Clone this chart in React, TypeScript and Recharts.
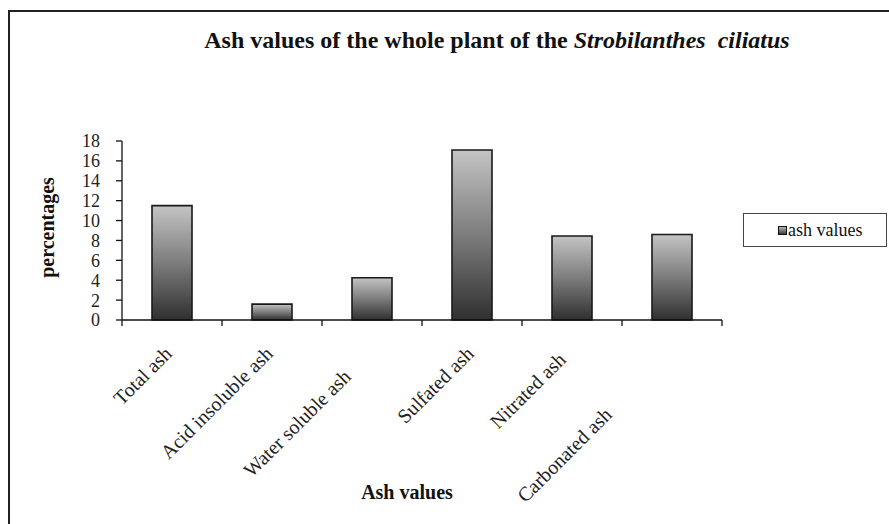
import React from 'react';
import { BarChart, Bar, XAxis, YAxis, Legend, Label } from 'recharts';

const categories = [
  'Total ash',
  'Acid insoluble ash',
  'Water soluble ash',
  'Sulfated ash',
  'Nitrated ash',
  'Carbonated ash',
];
const ashValues = [11.5, 1.6, 4.25, 17.1, 8.45, 8.6];
const yTicks = [0, 2, 4, 6, 8, 10, 12, 14, 16, 18];
const seriesName = 'ash values';
const titlePlain = 'Ash values of the whole plant of the ';
const titleItalic = 'Strobilanthes  ciliatus';
const xAxisTitle = 'Ash values';
const yAxisTitle = 'percentages';

// label placement offsets (Excel-style staggered category labels)
const labelShift = [
  { dx: 1, dy: 35 },
  { dx: 2, dy: 35 },
  { dx: -20, dy: 58 },
  { dx: 3, dy: 35 },
  { dx: -5, dy: 41 },
  { dx: -59, dy: 96 },
];

const data = categories.map((name, i) => ({ name, value: ashValues[i] }));

const FONT = 'Liberation Serif, DejaVu Serif, serif';

const XTick = (props: any) => {
  const { x, y, payload, index } = props;
  const half = payload && payload.offset ? payload.offset : 50;
  const s = labelShift[index] || { dx: 0, dy: 30 };
  const tx = x + s.dx;
  const ty = y + s.dy;
  return (
    <g>
      <line x1={x - half} y1={y} x2={x - half} y2={y + 6} stroke="#111" strokeWidth={1.3} />
      {index === categories.length - 1 && (
        <line x1={x + half} y1={y} x2={x + half} y2={y + 6} stroke="#111" strokeWidth={1.3} />
      )}
      <text
        x={tx}
        y={ty}
        transform={`rotate(-45, ${tx}, ${ty})`}
        textAnchor="end"
        style={{ fontFamily: FONT }}
        fontSize={20}
        fill="#222"
      >
        {payload.value}
      </text>
    </g>
  );
};

const LegendContent = () => (
  <div
    style={{
      width: 144,
      height: 34,
      boxSizing: 'border-box',
      border: '1.5px solid #444',
      background: '#fff',
      display: 'flex',
      alignItems: 'center',
      paddingLeft: 34,
      fontFamily: FONT,
      fontSize: 18,
      color: '#111',
    }}
  >
    <svg width={9} height={9} style={{ marginRight: 1 }}>
      <rect x={0.5} y={0.5} width={8} height={8} fill="url(#legGrad)" stroke="#111" strokeWidth={1} />
      <defs>
        <linearGradient id="legGrad" x1="0" y1="0" x2="0" y2="1">
          <stop offset="0%" stopColor="#c0c0c0" />
          <stop offset="100%" stopColor="#333" />
        </linearGradient>
      </defs>
    </svg>
    <span>{seriesName}</span>
  </div>
);

export default function App() {
  return (
    <div style={{ position: 'absolute', left: 0, top: 0, width: 889, height: 524, overflow: 'hidden', background: '#fff', fontFamily: FONT }}>
      <div
        style={{
          position: 'absolute',
          left: 8,
          top: 10,
          width: 900,
          height: 600,
          borderLeft: '2px solid #222',
          borderTop: '2px solid #222',
        }}
      />
      <svg width={889} height={70} style={{ position: 'absolute', left: 0, top: 0 }}>
        <text
          x={497}
          y={48}
          textAnchor="middle"
          fontSize={24}
          fontWeight="bold"
          fill="#111"
          style={{ whiteSpace: 'pre', fontFamily: FONT }}
        >
          <tspan>{titlePlain}</tspan>
          <tspan fontStyle="italic">{titleItalic}</tspan>
        </text>
      </svg>
      <div style={{ position: 'absolute', left: 0, top: 0 }}>
        <BarChart
          width={889}
          height={524}
          data={data}
          margin={{ top: 141, right: 167, left: 0, bottom: 0 }}
          barCategoryGap="30%"
          style={{ fontFamily: FONT }}
        >
          <defs>
            <linearGradient id="barGrad" x1="0" y1="0" x2="0" y2="1">
              <stop offset="0%" stopColor="#c4c4c4" />
              <stop offset="50%" stopColor="#7c7c7c" />
              <stop offset="100%" stopColor="#303030" />
            </linearGradient>
          </defs>
          <XAxis
            xAxisId="top"
            orientation="top"
            dataKey="name"
            height={0}
            tick={false}
            tickLine={false}
            axisLine={{ stroke: '#9a9a9a', strokeWidth: 1.3 }}
          />
          <XAxis
            xAxisId="cat"
            dataKey="name"
            height={204}
            tickLine={false}
            tickSize={0}
            tickMargin={0}
            interval={0}
            axisLine={{ stroke: '#111', strokeWidth: 1.3 }}
            tick={<XTick />}
          >
            <Label
              content={(p: any) => {
                const vb = p.viewBox || { x: 122, y: 320, width: 600 };
                const cx = vb.x + vb.width / 2 - 15;
                const cy = vb.y + 172;
                return (
                  <text
                    x={cx}
                    y={cy}
                    textAnchor="middle"
                    dominantBaseline="central"
                    style={{ fontFamily: FONT }}
                    fontSize={20}
                    fontWeight="bold"
                    fill="#111"
                  >
                    {xAxisTitle}
                  </text>
                );
              }}
            />
          </XAxis>
          <YAxis
            yAxisId="left"
            width={122}
            domain={[0, 18]}
            ticks={yTicks}
            interval={0}
            tickSize={6}
            tickMargin={16}
            tickLine={{ stroke: '#111', strokeWidth: 1.3 }}
            axisLine={{ stroke: '#111', strokeWidth: 1.3 }}
            tick={{ fontFamily: FONT, fontSize: 18, fill: '#222', style: { fontFamily: FONT } }}
          >
            <Label
              content={(p: any) => {
                const vb = p.viewBox || { x: 0, y: 141, width: 122, height: 179 };
                const cx = vb.x + 47;
                const cy = vb.y + vb.height / 2 - 3;
                return (
                  <text
                    x={cx}
                    y={cy}
                    transform={`rotate(-90, ${cx}, ${cy})`}
                    textAnchor="middle"
                    dominantBaseline="central"
                    style={{ fontFamily: FONT }}
                    fontSize={20}
                    fontWeight="bold"
                    fill="#111"
                  >
                    {yAxisTitle}
                  </text>
                );
              }}
            />
          </YAxis>
          <YAxis
            yAxisId="right"
            orientation="right"
            width={0}
            domain={[0, 18]}
            tick={false}
            tickLine={false}
            axisLine={{ stroke: '#9a9a9a', strokeWidth: 1.3 }}
          />
          <Legend
            layout="horizontal"
            verticalAlign="middle"
            align="center"
            wrapperStyle={{ position: 'absolute', left: 743, top: 213, width: 144, height: 34 }}
            content={<LegendContent />}
          />
          <Bar
            xAxisId="cat"
            yAxisId="left"
            dataKey="value"
            name={seriesName}
            fill="url(#barGrad)"
            stroke="#1a1a1a"
            strokeWidth={1.6}
            isAnimationActive={false}
          />
        </BarChart>
      </div>
    </div>
  );
}
